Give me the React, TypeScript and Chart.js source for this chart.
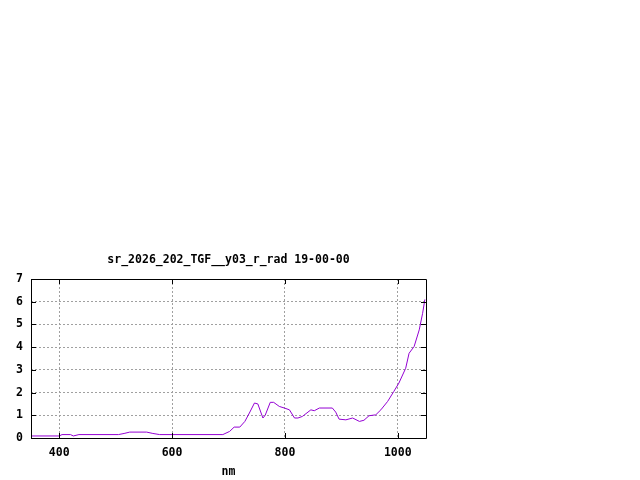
import React, { useEffect, useRef } from "react";
import { Chart, registerables } from "chart.js";

Chart.register(...registerables);

const titleText = "sr_2026_202_TGF__y03_r_rad 19-00-00";
const xAxisLabel = "nm";

// wavelength (nm) and radiance
const wavelengths = [
  350, 400, 405, 420, 425, 435, 505, 515, 525, 555, 566, 578, 690, 702, 710,
  720, 729, 737, 746, 752, 761, 765, 774, 780, 790, 799, 808, 817, 823, 831,
  846, 852, 861, 884, 890, 896, 908, 920, 932, 940, 949, 961, 970, 982, 993,
  1002, 1014, 1020, 1029, 1038, 1044, 1048,
];
const radiance = [
  0.09, 0.09, 0.15, 0.15, 0.09, 0.15, 0.15, 0.2, 0.26, 0.26, 0.2, 0.15, 0.15,
  0.29, 0.48, 0.48, 0.73, 1.1, 1.54, 1.5, 0.88, 1.0, 1.57, 1.57, 1.39, 1.32,
  1.24, 0.88, 0.88, 0.95, 1.24, 1.2, 1.32, 1.32, 1.14, 0.83, 0.8, 0.88, 0.73,
  0.78, 0.98, 1.02, 1.24, 1.61, 2.05, 2.42, 3.07, 3.73, 4.03, 4.76, 5.49, 6.1,
];

const xTicks = [400, 600, 800, 1000];
const yTicks = [0, 1, 2, 3, 4, 5, 6, 7];

const FONT = { family: '"DejaVu Sans Mono", monospace', size: 11.5, weight: "bold" as const };

// gnuplot-like frame with inward tick marks on all four sides, plus title over the plot area
const framePlugin = {
  id: "frame",
  afterDraw(chart: any) {
    const { ctx, chartArea: a, scales } = chart;
    const len = 5;
    ctx.save();
    ctx.strokeStyle = "#000";
    ctx.lineWidth = 1;
    ctx.beginPath();
    ctx.rect(Math.round(a.left) + 0.5, Math.round(a.top) + 0.5, Math.round(a.right - a.left), Math.round(a.bottom - a.top));
    xTicks.forEach((v) => {
      const x = Math.round(scales.x.getPixelForValue(v)) + 0.5;
      ctx.moveTo(x, a.bottom);
      ctx.lineTo(x, a.bottom - len);
      ctx.moveTo(x, a.top);
      ctx.lineTo(x, a.top + len);
    });
    yTicks.forEach((v) => {
      const y = Math.round(scales.y.getPixelForValue(v)) + 0.5;
      ctx.moveTo(a.left, y);
      ctx.lineTo(a.left + len, y);
      ctx.moveTo(a.right, y);
      ctx.lineTo(a.right - len, y);
    });
    ctx.stroke();

    ctx.fillStyle = "#000";
    ctx.font = `${FONT.weight} ${FONT.size}px ${FONT.family}`;
    ctx.textAlign = "center";
    ctx.textBaseline = "middle";
    ctx.fillText(titleText, (a.left + a.right) / 2, a.top - 19);
    ctx.restore();
  },
};

const App: React.FC = () => {
  const canvasRef = useRef<HTMLCanvasElement | null>(null);

  useEffect(() => {
    if (!canvasRef.current) return;
    const points = wavelengths.map((x, i) => ({ x, y: radiance[i] }));
    const chart = new Chart(canvasRef.current, {
      type: "line",
      data: {
        datasets: [
          {
            data: points,
            borderColor: "#9400d3",
            borderWidth: 1,
            pointRadius: 0,
            tension: 0,
            fill: false,
          },
        ],
      },
      options: {
        animation: false,
        responsive: false,
        devicePixelRatio: 1,
        layout: { padding: { left: 0, right: 214, top: 279, bottom: 0 } },
        plugins: {
          legend: { display: false },
          tooltip: { enabled: false },
          title: { display: false },
        },
        scales: {
          x: {
            type: "linear",
            min: 350,
            max: 1050,
            afterBuildTicks: (s: any) => {
              s.ticks = xTicks.map((value) => ({ value }));
            },
            afterFit: (s: any) => {
              s.height = 42;
            },
            ticks: {
              color: "#000",
              font: FONT,
              padding: 8,
              maxRotation: 0,
              callback: (v: any) => String(v),
            },
            grid: { color: "#a0a0a0", drawTicks: false, lineWidth: 1 },
            border: { display: false, dash: [2, 2] },
            title: {
              display: true,
              text: xAxisLabel,
              color: "#000",
              font: FONT,
              padding: { top: 0, bottom: 1.5 },
            },
          },
          y: {
            min: 0,
            max: 7,
            afterBuildTicks: (s: any) => {
              s.ticks = yTicks.map((value) => ({ value }));
            },
            afterFit: (s: any) => {
              s.width = 31;
            },
            ticks: { color: "#000", font: FONT, padding: 8, callback: (v: any) => String(v) },
            grid: { color: "#a0a0a0", drawTicks: false, lineWidth: 1 },
            border: { display: false, dash: [2, 2] },
          },
        },
      },
      plugins: [framePlugin],
    });
    return () => {
      chart.destroy();
    };
  }, []);

  return (
    <div style={{ position: "absolute", left: 0, top: 0, width: 640, height: 480, background: "#fff" }}>
      <canvas ref={canvasRef} width={640} height={480} />
    </div>
  );
};

export default App;
